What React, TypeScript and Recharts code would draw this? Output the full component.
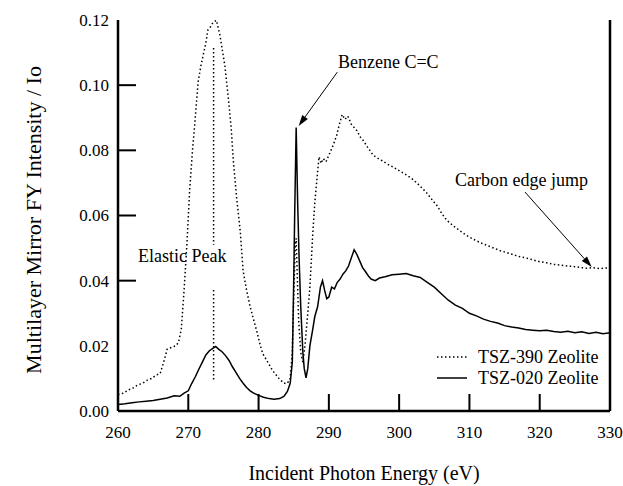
import { Line, LineChart, ReferenceLine, XAxis, YAxis } from "recharts";

// [photon energy eV, intensity]
const tsz390: [number, number][] = [
  [260, 0.005], [260.8, 0.0055], [261.5, 0.0065], [262.1, 0.007], [262.8, 0.008], [263.5, 0.0085],
  [264.2, 0.0095], [264.8, 0.01], [265.4, 0.011], [266, 0.0115], [266.5, 0.015], [267, 0.019],
  [267.6, 0.0195], [268.2, 0.02], [268.6, 0.021], [269, 0.025], [269.4, 0.037], [269.8, 0.051],
  [270.2, 0.068], [270.6, 0.08], [270.9, 0.0875], [271.4, 0.101], [271.8, 0.106], [272.1, 0.109],
  [272.5, 0.113], [272.8, 0.117], [273.2, 0.118], [273.5, 0.1192], [274, 0.1199], [274.5, 0.1154],
  [275.2, 0.106], [275.7, 0.096], [276.1, 0.087], [276.4, 0.077], [276.9, 0.065], [277.4, 0.055],
  [277.8, 0.043], [278.3, 0.037], [278.8, 0.032], [279.3, 0.028], [279.8, 0.024], [280.2, 0.0205],
  [280.6, 0.0176], [281.3, 0.015], [282, 0.0124], [282.9, 0.01], [283.6, 0.0085], [284.1, 0.0085],
  [284.5, 0.01], [284.8, 0.018], [285, 0.035], [285.2, 0.05], [285.35, 0.053], [285.5, 0.042],
  [285.7, 0.028], [286, 0.018], [286.3, 0.015], [286.6, 0.02], [287, 0.03], [287.3, 0.038],
  [287.7, 0.054], [288, 0.064], [288.3, 0.071], [288.6, 0.078], [288.9, 0.076], [289.2, 0.0775],
  [289.6, 0.0765], [290.1, 0.079], [290.6, 0.0815], [291.1, 0.0845], [291.5, 0.088], [291.9, 0.091],
  [292.3, 0.0895], [292.7, 0.0905], [293.2, 0.088], [293.6, 0.087], [294, 0.086], [294.5, 0.084],
  [294.9, 0.083], [295.5, 0.081], [296.3, 0.0785], [297, 0.0775], [297.6, 0.0768], [298.3, 0.0758],
  [299.2, 0.0748], [300.1, 0.0736], [301, 0.0725], [302, 0.071], [303, 0.069], [303.9, 0.067],
  [304.7, 0.0648], [305.4, 0.063], [306.1, 0.0605], [306.8, 0.0585], [307.6, 0.057], [308.4, 0.0557],
  [309.5, 0.054], [310.5, 0.0528], [311.5, 0.0517], [312.5, 0.0508], [313.5, 0.05], [314.4, 0.0492],
  [315.3, 0.0486], [316.2, 0.048], [317.1, 0.0474], [318, 0.047], [319, 0.0464], [320, 0.0458],
  [321, 0.0455], [322, 0.045], [322.9, 0.0448], [324, 0.0445], [325, 0.0443], [326, 0.044],
  [326.7, 0.0438], [327.5, 0.044], [328.5, 0.0437], [329.6, 0.0439], [330, 0.0438],
];

const tsz020: [number, number][] = [
  [260, 0.002], [261, 0.0022], [262, 0.0025], [263, 0.0028], [264, 0.003], [265, 0.0032],
  [266, 0.0036], [267, 0.004], [268, 0.0047], [268.8, 0.0045], [269.4, 0.0055], [270, 0.0062],
  [270.5, 0.0085], [271, 0.0105], [271.5, 0.0128], [272, 0.015], [272.5, 0.0172], [273, 0.0185],
  [273.5, 0.0192], [273.9, 0.0198], [274.3, 0.019], [274.8, 0.0182], [275.3, 0.017], [275.8, 0.0155],
  [276.3, 0.0135], [276.8, 0.0118], [277.3, 0.01], [277.8, 0.0085], [278.3, 0.0072], [278.8, 0.0062],
  [279.3, 0.0055], [280, 0.0048], [280.7, 0.0042], [281.5, 0.0038], [282.2, 0.0036], [283, 0.0038],
  [283.6, 0.0045], [284.1, 0.006], [284.5, 0.0085], [284.8, 0.015], [285, 0.04], [285.15, 0.062],
  [285.35, 0.087], [285.55, 0.065], [285.75, 0.048], [286, 0.032], [286.3, 0.018], [286.5, 0.013],
  [286.75, 0.0102], [287, 0.013], [287.3, 0.02], [287.7, 0.025], [288, 0.029], [288.4, 0.032],
  [288.8, 0.038], [289.1, 0.04], [289.4, 0.037], [289.7, 0.0345], [290, 0.035], [290.4, 0.038],
  [290.8, 0.0375], [291.2, 0.0395], [291.6, 0.0405], [292, 0.042], [292.4, 0.043], [292.8, 0.0445],
  [293.2, 0.047], [293.6, 0.0495], [294, 0.048], [294.4, 0.046], [294.8, 0.044], [295.2, 0.0428],
  [295.6, 0.0415], [296, 0.0405], [296.6, 0.04], [297.2, 0.0408], [298, 0.0412], [299, 0.0418],
  [300, 0.042], [301, 0.0422], [302, 0.0415], [303, 0.041], [304, 0.0395], [305, 0.038],
  [306, 0.036], [307, 0.034], [308, 0.0325], [309, 0.0315], [310, 0.03], [311, 0.0292],
  [312, 0.0282], [313, 0.0275], [314, 0.027], [315, 0.0262], [316, 0.0258], [317, 0.0255],
  [318, 0.025], [319, 0.0248], [320, 0.0246], [321, 0.0248], [322, 0.0244], [323, 0.0242],
  [324, 0.0245], [325, 0.024], [326, 0.0243], [327, 0.0238], [328, 0.0242], [329, 0.0237],
  [330, 0.024],
];

const xTicks = [260, 270, 280, 290, 300, 310, 320, 330];
const yTicks = [0, 0.02, 0.04, 0.06, 0.08, 0.1, 0.12];
// only these y ticks carry a mark in the original
const yMarked = [0.04, 0.06, 0.08, 0.1];

const elasticE = 273.6;
const elasticUpper: [number, number] = [0.1114, 0.051];
const elasticLower: [number, number] = [0.0371, 0.0089];
const benzeneArrow = [{ x: 291.2, y: 0.104 }, { x: 285.7, y: 0.0875 }];
const carbonArrow = [{ x: 317.9, y: 0.0672 }, { x: 327.4, y: 0.0442 }];

const serif = { fontFamily: "'Liberation Serif'" };

const toRows = (pts: [number, number][]) => pts.map(([e, v]) => ({ e, v }));

const YTick = (props: any) => {
  const { x, y, payload } = props;
  const marked = yMarked.some((t) => Math.abs(t - payload.value) < 1e-9);
  return (
    <g>
      {marked && <line x1={x} x2={x + 18} y1={y} y2={y} stroke="#000" strokeWidth={2} />}
      <text x={x - 9} y={y} dy="0.35em" textAnchor="end" fontSize={17} style={serif} fill="#000">
        {payload.value.toFixed(2)}
      </text>
    </g>
  );
};

const XTick = (props: any) => {
  const { x, y, payload } = props;
  const inner = payload.value > 260 && payload.value < 330;
  return (
    <g>
      {inner && <line x1={x} x2={x} y1={y} y2={y - 17} stroke="#000" strokeWidth={2} />}
      <text x={x} y={y + 21} dy="0.35em" textAnchor="middle" fontSize={17} style={serif} fill="#000">
        {payload.value}
      </text>
    </g>
  );
};

const Arrow = (p: any) => {
  const { x1, y1, x2, y2 } = p;
  const ang = Math.atan2(y2 - y1, x2 - x1);
  const L = 11, W = 3.5;
  const bx = x2 - L * Math.cos(ang);
  const by = y2 - L * Math.sin(ang);
  const nx = -Math.sin(ang) * W;
  const ny = Math.cos(ang) * W;
  return (
    <g>
      <line x1={x1} y1={y1} x2={bx} y2={by} stroke="#000" strokeWidth={1} />
      <polygon points={`${x2},${y2} ${bx + nx},${by + ny} ${bx - nx},${by - ny}`} fill="#000" />
    </g>
  );
};

export default function App() {
  return (
    <div style={{ position: "absolute", left: 0, top: 0, width: 623, height: 486, background: "#fff" }}>
      <LineChart width={623} height={486} margin={{ top: 20, right: 13, bottom: 0, left: 0 }}>
        <XAxis
          dataKey="e"
          type="number"
          domain={[260, 330]}
          ticks={xTicks}
          allowDataOverflow
          height={75}
          tickSize={0}
          tickMargin={0}
          tickLine={false}
          tick={<XTick />}
          axisLine={{ stroke: "#000", strokeWidth: 2.5 }}
        />
        <YAxis
          dataKey="v"
          type="number"
          domain={[0, 0.12]}
          ticks={yTicks}
          allowDataOverflow
          width={118}
          tickSize={0}
          tickMargin={0}
          tickLine={false}
          tick={<YTick />}
          axisLine={{ stroke: "#000", strokeWidth: 2.5 }}
        />
        <ReferenceLine x={330} stroke="#000" strokeWidth={2.5} />
        <ReferenceLine
          segment={[{ x: elasticE, y: elasticUpper[0] }, { x: elasticE, y: elasticUpper[1] }]}
          stroke="#000"
          strokeWidth={1.5}
          strokeDasharray="1.5 2.5"
        />
        <ReferenceLine
          segment={[{ x: elasticE, y: elasticLower[0] }, { x: elasticE, y: elasticLower[1] }]}
          stroke="#000"
          strokeWidth={1.5}
          strokeDasharray="1.5 2.5"
        />
        <Line
          data={toRows(tsz390)}
          dataKey="v"
          name="TSZ-390 Zeolite"
          stroke="#000"
          strokeWidth={1.5}
          strokeDasharray="1.5 2.5"
          dot={false}
          isAnimationActive={false}
        />
        <Line
          data={toRows(tsz020)}
          dataKey="v"
          name="TSZ-020 Zeolite"
          stroke="#000"
          strokeWidth={1.5}
          dot={false}
          isAnimationActive={false}
        />
        <ReferenceLine segment={benzeneArrow} shape={<Arrow />} />
        <ReferenceLine segment={carbonArrow} shape={<Arrow />} />

        <text x={138} y={256} dy="0.35em" fontSize={18} style={serif}>Elastic Peak</text>
        <text x={338} y={62} dy="0.35em" fontSize={18} style={serif}>Benzene C=C</text>
        <text x={455} y={180} dy="0.35em" fontSize={18} style={serif}>Carbon edge jump</text>
        <line x1={437} x2={467} y1={357} y2={357} stroke="#000" strokeWidth={1.5} strokeDasharray="1.5 2.5" />
        <text x={478} y={357} dy="0.35em" fontSize={18} style={serif}>TSZ-390 Zeolite</text>
        <line x1={437} x2={467} y1={378} y2={378} stroke="#000" strokeWidth={1.5} />
        <text x={478} y={378} dy="0.35em" fontSize={18} style={serif}>TSZ-020 Zeolite</text>
        <text x={364} y={480} textAnchor="middle" fontSize={20} style={serif}>Incident Photon Energy (eV)</text>
        <text x={33} y={220} dy="0.35em" textAnchor="middle" fontSize={22} style={serif} transform="rotate(-90 33 220)">
          Multilayer Mirror FY Intensity / Io
        </text>
      </LineChart>
    </div>
  );
}
